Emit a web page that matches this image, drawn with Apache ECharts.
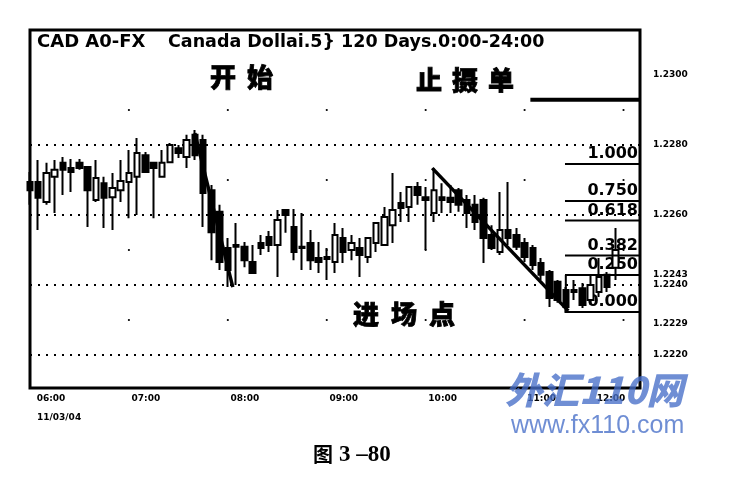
<!DOCTYPE html>
<html><head><meta charset="utf-8">
<script src="https://cdn.jsdelivr.net/npm/echarts@6/dist/echarts.min.js"></script>
<style>html,body{margin:0;padding:0;background:#fff}#c{width:748px;height:488px}</style>
</head><body><div id="c"></div>
<script>
// ---- data (5-minute bars from 06:00) ----
const openP = [1.22694,1.22694,1.22637,1.22709,1.22749,1.22734,1.22749,1.22737,1.22643,1.22691,
1.22651,1.22671,1.22694,1.22709,1.22771,1.22749,1.22709,1.22751,1.22791,1.22766,
1.22829,1.22814,1.22671,1.22609,1.22506,1.22514,1.22509,1.22466,1.22520,1.22537,
1.22514,1.22614,1.22566,1.22509,1.22520,1.22477,1.22480,1.22466,1.22534,1.22500,
1.22506,1.22480,1.22520,1.22514,1.22571,1.22634,1.22623,1.22680,1.22651,1.22606,
1.22651,1.22649,1.22671,1.22643,1.22629,1.22643,1.22543,1.22494,1.22557,1.22543,
1.22520,1.22506,1.22463,1.22437,1.22409,1.22386,1.22386,1.22391,1.22357,1.22380,
1.22429,1.22449];
const closeP = [1.22671,1.22649,1.22720,1.22729,1.22729,1.22723,1.22734,1.22671,1.22706,1.22649,
1.22677,1.22697,1.22720,1.22777,1.22723,1.22734,1.22749,1.22800,1.22777,1.22814,
1.22771,1.22663,1.22551,1.22466,1.22443,1.22509,1.22471,1.22434,1.22506,1.22514,
1.22586,1.22600,1.22494,1.22506,1.22471,1.22466,1.22474,1.22543,1.22494,1.22520,
1.22486,1.22534,1.22577,1.22594,1.22614,1.22620,1.22680,1.22657,1.22643,1.22671,
1.22643,1.22637,1.22629,1.22606,1.22580,1.22534,1.22506,1.22557,1.22534,1.22509,
1.22480,1.22457,1.22429,1.22363,1.22357,1.22337,1.22380,1.22343,1.22400,1.22423,
1.22394,1.22500];
const lowP = [1.22629,1.22557,1.22629,1.22606,1.22657,1.22666,1.22729,1.22566,1.22637,1.22563,
1.22557,1.22637,1.22591,1.22600,1.22720,1.22591,1.22709,1.22749,1.22763,1.22734,
1.22757,1.22566,1.22471,1.22443,1.22394,1.22400,1.22451,1.22434,1.22486,1.22494,
1.22423,1.22549,1.22471,1.22443,1.22443,1.22434,1.22414,1.22434,1.22463,1.22471,
1.22423,1.22463,1.22494,1.22514,1.22520,1.22580,1.22580,1.22629,1.22500,1.22580,
1.22606,1.22606,1.22609,1.22563,1.22557,1.22463,1.22500,1.22486,1.22514,1.22500,
1.22466,1.22443,1.22414,1.22337,1.22349,1.22320,1.22357,1.22334,1.22343,1.22366,
1.22380,1.22414];
const highP = [1.22723,1.22757,1.22749,1.22757,1.22766,1.22760,1.22760,1.22737,1.22757,1.22709,
1.22720,1.22757,1.22786,1.22820,1.22780,1.22749,1.22786,1.22806,1.22800,1.22829,
1.22843,1.22829,1.22686,1.22629,1.22534,1.22577,1.22523,1.22514,1.22543,1.22554,
1.22614,1.22617,1.22617,1.22606,1.22557,1.22523,1.22506,1.22577,1.22563,1.22543,
1.22534,1.22537,1.22577,1.22623,1.22720,1.22666,1.22680,1.22694,1.22680,1.22734,
1.22691,1.22686,1.22677,1.22657,1.22657,1.22649,1.22571,1.22666,1.22694,1.22563,
1.22534,1.22514,1.22477,1.22443,1.22414,1.22394,1.22414,1.22406,1.22429,1.22477,
1.22437,1.22563];

const yTickLabels = [1.2300, 1.2280, 1.2260, 1.2243, 1.2240, 1.2229, 1.2220];
const dottedLevels = [1.2280, 1.2260, 1.2240, 1.2220];
const hourLabels = ['06:00','07:00','08:00','09:00','10:00','11:00','12:00'];

// trend lines / stop line in bar-index coordinates
const trend1 = [[20.0, 1.22834], [24.6, 1.22394]];
const trend2 = [[48.8, 1.22734], [65.3, 1.22326]];
const stopLine = [[60.7, 1.22929], [74, 1.22929]];
const fibLow = 1.22323, fibHigh = 1.22746;
const fibRatios = [1.000, 0.750, 0.618, 0.382, 0.250, 0.000];
const fibStart = 64.9, fibEnd = 74;

const NBARS = 75;
const cats = [];
for (let i = 0; i < NBARS; i++) {
  const m = 360 + 5 * i;
  cats.push(String(Math.floor(m / 60)).padStart(2, '0') + ':' + String(m % 60).padStart(2, '0'));
}
const candles = openP.map((o, i) => [o, closeP[i], lowP[i], highP[i]]);
const fibLevel = r => fibLow + r * (fibHigh - fibLow);

const SANS = '"DejaVu Sans", sans-serif';
const CJK = '"Noto Sans CJK SC", sans-serif';

const lineSeries = (data, w, z, type) => ({
  type: 'line', xAxisIndex: 1, yAxisIndex: 0, data, symbol: 'none', silent: true,
  lineStyle: { color: '#000', width: w, type: type || 'solid' }, z: z
});

const series = [];
dottedLevels.forEach(v => series.push(lineSeries([[0, v], [NBARS - 1, v]], 2, 1, [2, 6])));
series.push({
  type: 'candlestick', data: candles, barWidth: 6, z: 5,
  itemStyle: { color: '#fff', color0: '#000', borderColor: '#000', borderColor0: '#000', borderWidth: 2 }
});
series.push(lineSeries(trend1, 3.5, 6), lineSeries(trend2, 3.5, 6), lineSeries(stopLine, 4, 6));
fibRatios.forEach(r => series.push(lineSeries([[fibStart, fibLevel(r)], [fibEnd, fibLevel(r)]], 2, 6)));
series.push(lineSeries([[65.0, fibLevel(0.25)], [65.0, fibLevel(0)]], 2, 6));

const chart = echarts.init(document.getElementById('c'));
chart.setOption({
  animation: false,
  grid: { left: 30, right: 108, top: 30, bottom: 100 },
  xAxis: [{
    type: 'category', data: cats, boundaryGap: false,
    axisLine: { show: false }, axisTick: { show: false }, splitLine: { show: false },
    axisLabel: {
      interval: (idx, val) => hourLabels.indexOf(val) >= 0,
      margin: 6,
      formatter: v => v === '06:00' ? '{f|' + v + '}' : (v === '12:00' ? '{e|' + v + '}' : '{n|' + v + '}'),
      rich: {
        n: { fontFamily: SANS, fontWeight: 'bold', fontSize: 9, color: '#000', padding: [0, 0, 0, 34] },
        f: { fontFamily: SANS, fontWeight: 'bold', fontSize: 9, color: '#000', padding: [0, 0, 0, 42] },
        e: { fontFamily: SANS, fontWeight: 'bold', fontSize: 9, color: '#000', padding: [0, 25, 0, 0] }
      }
    }
  }, { type: 'value', min: 0, max: NBARS - 1, show: false }],
  yAxis: {
    type: 'value', position: 'right', min: 1.221057, max: 1.231286, scale: true,
    axisLine: { show: false }, axisTick: { show: false }, splitLine: { show: false },
    axisLabel: {
      customValues: yTickLabels, formatter: v => v.toFixed(4), margin: 13,
      fontFamily: SANS, fontWeight: 'bold', fontSize: 9, color: '#000'
    }
  },
  series
});

// ---- decorations ----
const px = i => chart.convertToPixel({ xAxisIndex: 1 }, i);
const py = v => chart.convertToPixel({ yAxisIndex: 0 }, v);
const g = [];
g.push({ type: 'rect', z: 10, shape: { x: 30, y: 30, width: 610, height: 358 },
  style: { fill: null, stroke: '#000', lineWidth: 3 } });
// sparse grid dots
[12, 24, 36, 48, 60, 72].forEach(k => {
  [1.2290, 1.2270, 1.2250, 1.2230].forEach(v => {
    g.push({ type: 'circle', z: 1, shape: { cx: px(k), cy: py(v), r: 1.1 }, style: { fill: '#000' } });
  });
});
// title
g.push({ type: 'text', z: 10, style: { text: 'CAD A0-FX', x: 37, y: 42, verticalAlign: 'middle',
  font: 'bold 18px ' + SANS, fill: '#000' } });
g.push({ type: 'text', z: 10, style: { text: 'Canada Dollai.5} 120 Days.0:00-24:00', x: 168, y: 42, verticalAlign: 'middle',
  font: 'bold 17.5px ' + SANS, fill: '#000' } });
// fib labels
fibRatios.forEach(r => {
  g.push({ type: 'text', z: 1, style: { text: r.toFixed(3), x: 638, y: py(fibLevel(r)) - 10,
    align: 'right', verticalAlign: 'middle', font: 'bold 16px ' + SANS, fill: '#000' } });
});
// chinese annotations
const cjkWord = (chars, x0, step, y, size) => chars.split('').forEach((c, i) => {
  g.push({ type: 'text', z: 10, style: { text: c, x: x0 + i * step, y, align: 'center', verticalAlign: 'middle',
    font: '900 ' + size + 'px ' + CJK, fill: '#000', stroke: '#000', lineWidth: 0.8 } });
});
cjkWord('开始', 223, 37, 77, 26);
cjkWord('止摄单', 429, 36, 80, 26);
cjkWord('进场点', 366, 38, 314, 26);
// date under first label
g.push({ type: 'text', z: 10, style: { text: '11/03/04', x: 37, y: 418, verticalAlign: 'middle',
  font: 'bold 9px ' + SANS, fill: '#000' } });
// caption
g.push({ type: 'text', z: 10, style: { text: '图', x: 313, y: 454, verticalAlign: 'middle',
  font: 'bold 20px ' + CJK, fill: '#000' } });
g.push({ type: 'text', z: 10, style: { text: '3 –80', x: 339, y: 455, verticalAlign: 'middle',
  font: 'bold 23px "Liberation Serif", serif', fill: '#000' } });
// watermark
g.push({ type: 'text', z: 20, style: { text: '外汇110网', x: 505, y: 390, verticalAlign: 'middle',
  font: 'italic 900 37px ' + CJK, fill: 'rgba(70,110,200,0.78)' } });
g.push({ type: 'text', z: 20, style: { text: 'www.fx110.com', x: 511, y: 426, verticalAlign: 'middle',
  font: '25px "Liberation Sans", sans-serif', fill: 'rgba(70,110,200,0.78)' } });

chart.setOption({ graphic: g });
</script></body></html>
